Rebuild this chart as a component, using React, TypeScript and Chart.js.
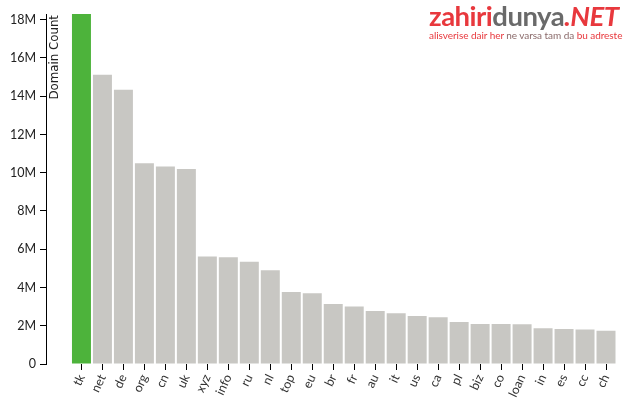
import React, { useEffect, useRef } from "react";
import { Chart, registerables } from "chart.js";

Chart.register(...registerables);

const categories = ["tk","net","de","org","cn","uk","xyz","info","ru","nl","top","eu","br","fr","au","it","us","ca","pl","biz","co","loan","in","es","cc","ch"];
const domainCounts = [18.3,15.12,14.34,10.5,10.33,10.2,5.62,5.58,5.35,4.9,3.77,3.7,3.14,3.01,2.77,2.65,2.51,2.44,2.2,2.09,2.09,2.08,1.87,1.83,1.8,1.74].map(v => v * 1e6);
const yTickValues = [0,2,4,6,8,10,12,14,16,18].map(v => v * 1e6);
const yTickLabels = ["0","2M","4M","6M","8M","10M","12M","14M","16M","18M"];
const highlightColor = "#4db33b";
const barColor = "#c8c7c3";

const titlePlugin = {
  id: "domainTitle",
  afterDraw(chart: any) {
    const ctx = chart.ctx;
    ctx.save();
    ctx.translate(chart.chartArea.left + 12, chart.chartArea.top + 1);
    ctx.rotate(-Math.PI / 2);
    ctx.textAlign = "right";
    ctx.textBaseline = "alphabetic";
    ctx.font = "11.8px 'DejaVu Sans'";
    ctx.fillStyle = "#222";
    ctx.fillText("Domain Count", 0, 0);
    ctx.restore();
  },
};

export default function App() {
  const ref = useRef<HTMLCanvasElement>(null);
  useEffect(() => {
    document.body.style.margin = "0";
    const chart = new Chart(ref.current as HTMLCanvasElement, {
      type: "bar",
      data: {
        datasets: [
          {
            data: domainCounts.map((v, i) => ({ x: i, y: v })),
            backgroundColor: categories.map((_, i) => (i === 0 ? highlightColor : barColor)),
            borderWidth: 0,
            categoryPercentage: 1,
            barPercentage: 0.905,
          } as any,
        ],
      },
      options: {
        animation: false,
        responsive: false,
        layout: { padding: { top: 14, right: 17.5, left: 0, bottom: 0 } },
        plugins: { legend: { display: false }, tooltip: { enabled: false } },
        scales: {
          x: {
            type: "linear",
            offset: false,
            min: -1.69,
            max: 25.5,
            afterBuildTicks: (s: any) => {
              s.ticks = categories.map((_, i) => ({ value: i }));
            },
            afterFit: (s: any) => {
              s.height = 42;
            },
            border: { display: false },
            grid: { drawOnChartArea: false, offset: false, tickLength: 6, color: "#000" },
            ticks: {
              autoSkip: false,
              minRotation: 65,
              maxRotation: 65,
              padding: 2,
              color: "#333",
              font: { family: "Lato", size: 12.5 },
              callback: (v: any) => categories[v as number] ?? "",
            },
          },
          y: {
            min: 0,
            max: 18.3e6,
            afterBuildTicks: (s: any) => {
              s.ticks = yTickValues.map(v => ({ value: v }));
            },
            afterFit: (s: any) => {
              s.width = 46;
            },
            border: { display: true, color: "#000", width: 1 },
            grid: { drawOnChartArea: false, tickLength: 6, color: "#000" },
            ticks: {
              padding: 4,
              color: "#222",
              font: { family: "Lato", size: 12.5 },
              callback: (v: any) => yTickLabels[yTickValues.indexOf(v as number)] ?? "",
            },
          },
        },
      },
      plugins: [titlePlugin],
    });
    return () => chart.destroy();
  }, []);

  return (
    <div style={{ position: "fixed", left: 0, top: 0, width: 634, height: 406, background: "#fff" }}>
      <canvas ref={ref} width={634} height={406} />
      <div style={{ position: "absolute", left: 429, top: 0, width: 200, fontFamily: "Lato", whiteSpace: "nowrap" }}>
        <div style={{ fontSize: 27.5, fontWeight: 700, lineHeight: "31px", letterSpacing: -0.5 }}>
          <span style={{ color: "#e8383d" }}>zahiri</span>
          <span style={{ color: "#6a6a6a" }}>dunya</span>
          <span style={{ color: "#e8383d", fontStyle: "italic" }}>.NET</span>
        </div>
        <div style={{ fontSize: 10, lineHeight: "9px", color: "#e8383d", letterSpacing: -0.05 }}>
          alisverise dair her <span style={{ color: "#8a6a6a" }}>ne varsa tam da</span> bu adreste
        </div>
      </div>
    </div>
  );
}
